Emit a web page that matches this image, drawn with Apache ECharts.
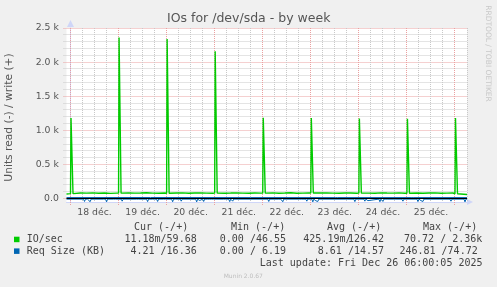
<!DOCTYPE html>
<html><head><meta charset="utf-8">
<script src="https://cdn.jsdelivr.net/npm/echarts@6/dist/echarts.min.js"></script>
<style>html,body{margin:0;padding:0;background:#f0f0f0}#c{width:497px;height:287px}</style>
</head><body><div id="c"></div>
<script>
// time unit: hours since 18 Dec 00:00 (range 17 Dec 22:00 .. 26 Dec 06:00)
const dayLabels = ['18 déc.','19 déc.','20 déc.','21 déc.','22 déc.','23 déc.','24 déc.','25 déc.'];
const yTickLabels = ['0.0','0.5 k','1.0 k','1.5 k','2.0 k','2.5 k'];

// IO/sec write (+) baseline samples
const ioBaseTimes = [-2,
  2,5,8,11,14,17,20,23,
  26,29,32,35,38,41,44,47,
  50,53,56,59,62,65,68,71,
  74,77,80,83,86,89,92,95,
  98,101,104,107,110,113,116,119,
  122,125,128,131,134,137,140,143,
  146,149,152,155,158,161,164,167,
  170,173,176,179,182,185,188,191,
  194,198];
const ioBaseValues = [68,
  78,82,80,84,79,81,77,80,
  85,83,80,82,86,80,78,81,
  80,82,84,79,81,83,80,78,
  82,79,81,84,80,78,82,80,
  80,83,78,81,85,79,80,82,
  79,81,84,80,78,82,81,79,
  82,80,79,83,81,80,84,78,
  80,82,78,81,83,79,80,82,
  66,60];
// nightly spikes (start time, peak, level at spike edges)
const ioSpikeTimes = [0,24,48,72,96,120,144,168,192];
const ioSpikePeaks = [1180,2360,2340,2160,1185,1180,1175,1170,1180];
const ioSpikeEdges = [72,80,79,80,80,81,80,79,70];

// Req Size (KB) write (+)
const reqWriteTimes = [-2,40,90,132.5,133,133.5,170.5,171,171.5,198];
const reqWriteValues = [15,16,15,15,38,15,15,30,15,15];
// Req Size (KB) read (-): baseline and dips
const reqReadBaseTimes = [-2,198];
const reqReadBaseValues = [-8,-8];
const reqReadDipTimes = [7,8,9.8,17,18,22,25.8,33.5,38.5,41.5,
  43.5,47,51,52,55.3,63,64.5,66.5,69,71,
  77,79.5,81,99,104.5,106,115,118,121,122.5,
  123.5,138,142,147,148.5,154.5,156,158,162,166,
  173.5,175,176,180,185,190,197];
const reqReadDipValues = [-42,-30,-46,-34,-48,-28,-38,-26,-44,-32,
  -42,-36,-46,-30,-38,-48,-28,-42,-32,-36,
  -26,-44,-38,-42,-36,-46,-30,-38,-48,-32,
  -42,-36,-44,-38,-30,-46,-42,-36,-32,-38,
  -44,-30,-42,-36,-32,-38,-48];

const legendNames = ['IO/sec','Req Size (KB)'];
const legendColors = ['#00cc00','#0066b3'];
const legendHeaders = ['Cur (-/+)','Min (-/+)','Avg (-/+)','Max (-/+)'];
const legendCur = ['11.18m/59.68','4.21 /16.36'];
const legendMin = ['0.00 /46.55','0.00 / 6.19'];
const legendAvg = ['425.19m/126.42','8.61 /14.57'];
const legendMax = ['70.72 / 2.36k','246.81 /74.72'];
const lastUpdate = 'Last update: Fri Dec 26 06:00:05 2025';

// build series data
const ioData = ioBaseTimes.map((t,i)=>[t,ioBaseValues[i]]);
ioSpikeTimes.forEach((t,i)=>{
  ioData.push([t,ioSpikeEdges[i]],[t+0.25,ioSpikePeaks[i]],[t+1.0,ioSpikePeaks[i]],[t+1.25,ioSpikeEdges[i]]);
});
ioData.sort((a,b)=>a[0]-b[0]);
const reqWriteData = reqWriteTimes.map((t,i)=>[t,reqWriteValues[i]]);
const reqReadData = reqReadBaseTimes.map((t,i)=>[t,reqReadBaseValues[i]]);
reqReadDipTimes.forEach((t,i)=>{
  reqReadData.push([t-0.5,reqReadBaseValues[0]],[t,reqReadDipValues[i]],[t+0.5,reqReadBaseValues[0]]);
});
reqReadData.sort((a,b)=>a[0]-b[0]);

const X_MIN=-2, X_MAX=198, Y_MIN=-50, Y_MAX=2500;
const MG = '#eaa0a0', G = '#c8c8c8';
// grid line items: [x, y, kind] kind 0=h minor,1=h major,2=v minor,3=v major
const gridItems = [];
for (let v=0; v<=Y_MAX; v+=100) gridItems.push([X_MIN, v, v%500===0?1:0]);
for (let t=0; t<=X_MAX; t+=6) gridItems.push([t, 0, t%24===0?3:2]);

const chart = echarts.init(document.getElementById('c'), null, {renderer:'canvas'});
const mono = 'DejaVu Sans Mono';
const txt = (text,x,y,o={}) => ({type:'text', x, y, silent:true, rotation:o.rot||0,
  style:{text, fill:o.fill||'#444', fontFamily:o.ff||mono, fontSize:o.fs||10,
  textAlign:o.align||'left', textVerticalAlign:'middle'}});

const graphics = [
  txt('IOs for /dev/sda - by week',248.7,18.5,{ff:'DejaVu Sans',fs:12.5,align:'center',fill:'#555'}),
  txt('Units read (-) / write (+)',9.5,117.5,{ff:'DejaVu Sans',fs:10.7,align:'center',fill:'#555',rot:Math.PI/2}),
  txt('RRDTOOL / TOBI OETIKER',488,53.5,{ff:'DejaVu Sans',fs:7.5,align:'center',fill:'#c8c8c8',rot:-Math.PI/2}),
  txt('Munin 2.0.67',243.3,276.5,{ff:'DejaVu Sans',fs:6,align:'center',fill:'#bdbdbd'}),
];
const hdrX = [134,231,327,423];
legendHeaders.forEach((h,i)=>graphics.push(txt(h,hdrX[i],227.7)));
const rowY = [239.5,251.2];
legendNames.forEach((n,i)=>{
  graphics.push({type:'rect', silent:true, shape:{x:14,y:rowY[i]-2.8,width:5.5,height:5.5}, style:{fill:legendColors[i]}});
  graphics.push(txt(n,26.7,rowY[i]));
  graphics.push(txt(legendCur[i],196.7,rowY[i],{align:'right'}));
  graphics.push(txt(legendMin[i],286,rowY[i],{align:'right'}));
  graphics.push(txt(legendMax[i],i===0?482.3:477.7,rowY[i],{align:'right'}));
});
const avg0 = legendAvg[0].split('/');
graphics.push(txt(avg0[0]+'/',303.3,rowY[0]));
graphics.push(txt(avg0[1],384,rowY[0],{align:'right'}));
graphics.push(txt(legendAvg[1],384,rowY[1],{align:'right'}));
graphics.push(txt(lastUpdate,482.5,263.3,{align:'right'}));

chart.setOption({
  animation:false,
  backgroundColor:'#f0f0f0',
  grid:{left:66.5,right:30,top:28,bottom:85,show:true,backgroundColor:'#ffffff',borderWidth:0},
  xAxis:{type:'value',min:X_MIN,max:X_MAX,
    axisLine:{show:true,onZero:false,lineStyle:{color:'#cfd6f8',width:1},symbol:['none','triangle'],symbolSize:[6,6],symbolOffset:[0,3]},
    axisTick:{show:false},
    splitLine:{show:false},
    axisLabel:{color:'#555',fontFamily:'DejaVu Sans',fontSize:9.3,margin:6.5,
      customValues:[12,36,60,84,108,132,156,180],
      formatter:v=>dayLabels[Math.round((v-12)/24)]||''}
  },
  yAxis:{type:'value',min:Y_MIN,max:Y_MAX,
    axisLine:{show:true,lineStyle:{color:'#cfd6f8',width:1},symbol:['none','triangle'],symbolSize:[7,7],symbolOffset:[0,4.5]},
    axisTick:{show:false},
    splitLine:{show:false},
    axisLabel:{color:'#555',fontFamily:'DejaVu Sans',fontSize:9.3,margin:7.7,
      customValues:[0,500,1000,1500,2000,2500],
      formatter:v=>yTickLabels[Math.round(v/500)]||''}
  },
  series:[
    {type:'custom',coordinateSystem:'cartesian2d',silent:true,clip:false,z:1,data:gridItems,
      renderItem:(params,api)=>{
        const cs=params.coordSys, kind=api.value(2);
        const p=api.coord([api.value(0),api.value(1)]);
        let shape;
        if(kind<2){const y=Math.round(p[1]-0.5)+0.5; shape={x1:cs.x-3,y1:y,x2:cs.x+cs.width,y2:y};}
        else{const x=Math.round(p[0]-0.5)+0.5; shape={x1:x,y1:cs.y,x2:x,y2:cs.y+cs.height+(kind===3?3:0)};}
        const major=(kind===1||kind===3);
        return {type:'line',shape,style:{stroke:major?MG:G,lineWidth:1,lineDash:[1,1]}};
      }},
    {type:'line',z:2,data:ioData,showSymbol:false,silent:true,lineStyle:{color:'#00cc00',width:1.4},itemStyle:{color:'#00cc00'}},
    {type:'line',z:2,data:reqWriteData,showSymbol:false,silent:true,lineStyle:{color:'#0066b3',width:1},itemStyle:{color:'#0066b3'}},
    {type:'line',z:2,data:reqReadData,showSymbol:false,silent:true,lineStyle:{color:'#0066b3',width:1},itemStyle:{color:'#0066b3'},
      markLine:{silent:true,symbol:'none',label:{show:false},lineStyle:{color:'#000000',width:1,type:'solid'},data:[{yAxis:0}]}}
  ],
  graphic:graphics
});
</script></body></html>
